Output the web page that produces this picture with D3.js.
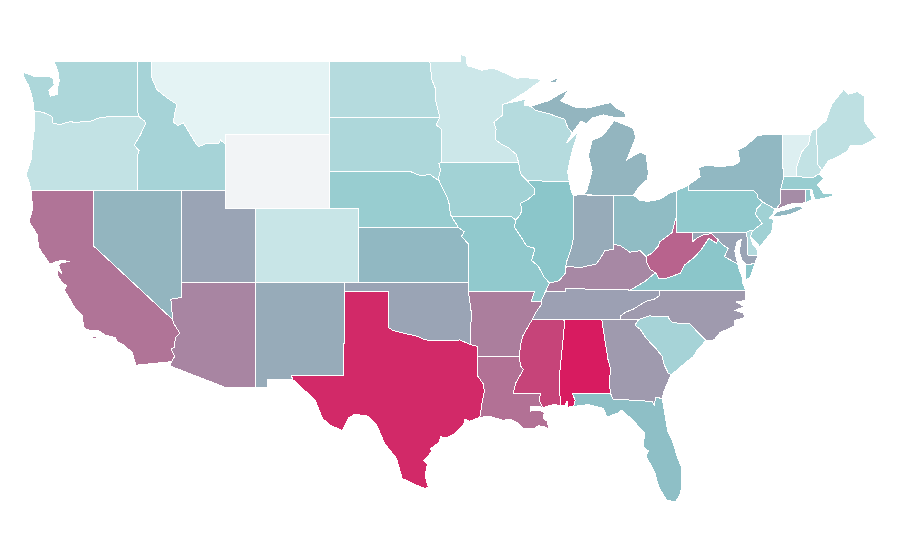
<!DOCTYPE html>
<html>
<head>
<meta charset="utf-8">
<script src="https://cdn.jsdelivr.net/npm/d3@7"></script>
<style>
  html, body { margin: 0; padding: 0; background: #fff; }
  svg { display: block; }
  .state { stroke: #fff; stroke-width: 1; shape-rendering: crispEdges; }
</style>
</head>
<body>
<svg id="map" width="900" height="560"></svg>
<script>
// state codes and the value each one is shaded by (read off the colours), null = no data
const stateCodes = ["AL","AR","AZ","CA","CO","CT","DE","FL","GA","IA","ID","IL","IN","KS","KY","LA","MA","MD","ME","MI","MN","MO","MS","MT","NC","ND","NE","NH","NJ","NM","NV","NY","OH","OK","OR","PA","RI","SC","SD","TN","TX","UT","VA","VT","WA","WI","WV","WY"];
const stateValues = [100,71,69,74,18,67,29,52,63,38,36,50,58,54,68,75,43,60,23,55,16,47,88,3,63,28,43,21,39,58,55,54,53,60,21,47,47,36,32,61,96,60,50,7,32,28,79,null];

// colour ramp
const rampStops = [0, 50, 100];
const rampColors = ["#eaf6f7", "#8bc6ca", "#d81b60"];
const noDataColor = "#f2f4f6";

// shared borders, [lon, lat]
const columbia = [[-116.92,45.99],[-118.98,46],[-119.3,45.93],[-119.6,45.92],[-120.2,45.73],[-120.65,45.74],[-121.2,45.65],[-121.5,45.72],[-122,45.62],[-122.3,45.55],[-122.75,45.65],[-122.8,46],[-123.2,46.15],[-123.43,46.23],[-124,46.27]];
const snake = [[-116.92,45.99],[-116.53,45.75],[-116.46,45.6],[-116.85,44.95],[-117.22,44.45],[-117.03,44.25],[-116.9,44.15],[-117.03,43.83],[-117.03,42]];
const idMt = [[-116.05,49],[-116.05,48.1],[-115.7,47.45],[-115,47],[-114.35,46.65],[-114.5,46.15],[-114.57,45.7],[-114.3,45.5],[-113.9,45.65],[-113.45,45.05],[-113,44.45],[-112.85,44.37],[-112.3,44.55],[-111.5,44.55],[-111.4,44.73],[-111.05,44.47]];
const colorado = [[-114.63,35],[-114.57,34.8],[-114.15,34.27],[-114.45,34],[-114.52,33.5],[-114.72,33.4],[-114.5,33],[-114.72,32.72]];
const redNorth = [[-97.23,49],[-97.1,48],[-96.85,47.5],[-96.85,46.9],[-96.56,45.94]];
const mnSd = [[-96.56,45.94],[-96.8,45.55],[-96.45,45.3],[-96.45,43.5]];
const sdIa = [[-96.45,43.5],[-96.62,43.45],[-96.5,43.1],[-96.65,42.65],[-96.6,42.5]];
const neNorth = [[-98.5,43],[-97.9,42.8],[-97.2,42.85],[-96.6,42.5]];
const moRiver = [[-96.6,42.5],[-96.1,41.7],[-95.9,41.2],[-95.85,40.7],[-95.31,40]];
const kcBend = [[-95.31,40],[-94.9,39.75],[-95.1,39.5],[-94.62,39.1]];
const redRiver = [[-100,34.56],[-99.7,34.4],[-99.2,34.3],[-98.1,34.1],[-97.7,33.95],[-97.2,33.85],[-96.6,33.85],[-96,33.85],[-95.2,33.9],[-94.48,33.64]];
const sabine = [[-94.04,32],[-93.6,31.5],[-93.55,31.1],[-93.72,30.38],[-93.85,29.7]];
const mnWi = [[-92.01,46.71],[-92.29,46.66],[-92.29,46.08],[-92.9,45.7],[-92.75,45.3],[-92.8,44.75],[-92.3,44.45],[-91.9,44.3],[-91.4,43.95],[-91.22,43.5]];
const iaWi = [[-91.22,43.5],[-91.1,42.9],[-90.64,42.51]];
const iaIl = [[-90.64,42.51],[-90.16,42.1],[-90.15,41.8],[-90.6,41.5],[-91.1,41.3],[-91,40.95],[-91.1,40.7],[-91.42,40.38]];
const moIl = [[-91.42,40.38],[-91.5,40],[-91,39.4],[-90.7,39],[-90.12,38.85],[-90.2,38.6],[-90.35,38.2],[-89.9,37.9],[-89.5,37.3],[-89.13,36.98]];
const arMiss = [[-89.7,36],[-89.7,35.8],[-90.05,35.4],[-90.3,35],[-90.6,34.6],[-90.95,34.1],[-91.1,33.6],[-91.17,33]];
const laMs = [[-91.17,33],[-91.1,32.5],[-90.9,32.3],[-91.4,31.6],[-91.6,31],[-89.73,31],[-89.85,30.65],[-89.55,30.2]];
const kyIl = [[-89.13,36.98],[-88.5,37.1],[-88.07,37.5],[-88.07,37.8]];
const kyIn = [[-88.07,37.8],[-87.9,37.9],[-87.1,37.8],[-86.6,37.9],[-86,38],[-85.7,38.3],[-85.4,38.73],[-84.8,38.8],[-84.8,39.1]];
const kyOh = [[-84.8,39.1],[-84.3,38.98],[-83.7,38.65],[-83,38.73],[-82.6,38.42]];
const kyWv = [[-82.6,38.42],[-82.6,38.17],[-82.3,37.7],[-81.97,37.54]];
const ohWv = [[-82.6,38.42],[-82.2,38.6],[-81.75,39],[-81.7,39.2],[-80.85,39.7],[-80.62,40.4],[-80.52,40.64]];
const vaKy = [[-81.97,37.54],[-82.7,37.05],[-83.68,36.6]];
const vaWv = [[-81.97,37.54],[-81.7,37.2],[-81.2,37.25],[-80.3,37.5],[-80,37.95],[-79.3,38.4],[-78.85,38.8],[-78.35,39.4],[-77.83,39.13],[-77.72,39.32]];
const mdWv = [[-79.48,39.72],[-79.48,39.2],[-79.1,39.45],[-78.75,39.58],[-78.4,39.62],[-78.2,39.68],[-77.72,39.32]];
const potomac = [[-77.72,39.32],[-77.5,39.1],[-77.05,38.85],[-77.3,38.4],[-76.95,38.25],[-76.4,38]];
const ncWest = [[-81.68,36.59],[-81.7,36.3],[-82.05,36.1],[-82.6,36],[-83.1,35.75],[-83.5,35.55],[-84,35.4],[-84.32,35.2],[-84.32,35]];
const scNc = [[-83.1,35],[-82.4,35.2],[-81.05,35.15],[-81.05,35.05],[-80.8,34.82],[-79.68,34.8],[-78.55,33.86]];
const savannah = [[-83.35,34.7],[-83,34.47],[-82.55,33.95],[-81.9,33.4],[-81.5,33],[-81.4,32.6],[-81.1,32.1],[-80.88,32.03]];
const alGa = [[-85.6,35],[-85.18,32.85],[-85,32.3],[-85.1,31.6],[-85,31]];
const delaware = [[-75.35,42],[-75.05,41.75],[-75.05,41.6],[-74.7,41.36]];
const wiMi = [[-90.4,46.55],[-90.1,46.33],[-89.1,46.13],[-88.7,46],[-88.1,45.85],[-87.9,45.4],[-87.6,45.1]];
const vtNh = [[-71.5,45],[-71.6,44.5],[-72.05,44.1],[-72.4,43.3],[-72.46,42.73]];
const rev = a => a.slice().reverse();

// state outlines, each a list of rings
const outlines = {
  AL: [[...alGa,[-87.6,31],[-87.4,30.65],[-87.5,30.3],[-87.95,30.25],[-87.95,30.6],[-88.1,30.35],[-88.4,30.35],[-88.47,31.9],[-88.1,34.9],[-88.2,35]]],
  AR: [[[-94.62,36.5],[-90.15,36.5],[-90.37,36],...arMiss,[-94.04,33],[-94.04,33.55],[-94.48,33.64],[-94.43,35.4]]],
  AZ: [[[-114.04,37],[-109.05,37],[-109.05,31.33],[-111.07,31.33],[-114.81,32.49],...rev(colorado),[-114.75,36.1],[-114.04,36.2]]],
  CA: [[[-124.21,42],[-120,42],[-120,39],...colorado,[-117.12,32.53],[-117.25,32.85],[-117.35,33.2],[-117.9,33.6],[-118.4,33.8],[-118.5,34.03],[-119.2,34.15],[-119.6,34.38],[-120.47,34.45],[-120.65,34.58],[-120.75,35.2],[-121.3,35.7],[-121.95,36.6],[-121.8,36.85],[-122.05,36.95],[-122.45,37.4],[-122.45,37.78],[-122.1,37.45],[-122.35,37.95],[-122.2,38.08],[-121.6,38.15],[-122.1,38.2],[-122.45,38.15],[-122.95,38],[-123.7,38.9],[-123.8,39.6],[-124.35,40.3],[-124.1,41],[-124.21,42]],
       [[-120.2,33.98],[-119.95,34.08],[-119.6,34.02],[-119.9,33.95]]],
  CO: [[[-109.05,41],[-102.05,41],[-102.05,37],[-109.05,37]]],
  CT: [[[-73.5,42.05],[-71.8,42.02],[-71.85,41.32],[-72.9,41.25],[-73.65,41],[-73.7,41.1],[-73.5,41.3]]],
  DE: [[[-75.79,39.72],[-75.6,39.83],[-75.4,39.8],[-75.55,39.5],[-75.4,39.1],[-75.1,38.8],[-75.05,38.45],[-75.7,38.46]]],
  FL: [[[-87.6,31],[-85,31],[-84.86,30.7],[-82.2,30.57],[-82.05,30.36],[-81.95,30.8],[-81.5,30.72],[-81.35,30],[-81.15,29],[-80.8,28.4],[-80.5,27.6],[-80.2,27],[-80.2,26.3],[-80.25,25.6],[-80.6,25.15],[-81.2,25.2],[-81.75,25.95],[-82,26.7],[-82.6,27.6],[-82.45,27.9],[-82.8,28.1],[-82.7,28.85],[-83.5,29.56],[-84.25,30.1],[-84.5,29.95],[-85.25,29.72],[-85.5,30.2],[-86.5,30.4],[-87.5,30.3],[-87.4,30.65]]],
  GA: [[[-85.6,35],[-83.1,35],...savannah,[-81.2,31.5],[-81.4,31.1],[-81.5,30.72],[-81.95,30.8],[-82.05,30.36],[-82.2,30.57],[-84.86,30.7],...rev(alGa)]],
  IA: [[[-96.45,43.5],[-91.22,43.5],[-91.1,42.9],...iaIl,[-91.72,40.6],[-95.77,40.58],[-95.85,40.7],[-95.9,41.2],[-96.1,41.7],...rev(sdIa)]],
  ID: [[[-117.03,49],...idMt,[-111.05,42],[-117.03,42],...rev(snake),[-117.04,46.42]]],
  IL: [[[-90.64,42.51],[-87.8,42.49],[-87.65,41.9],[-87.53,41.71],[-87.53,39.35],[-87.65,38.9],[-87.95,38.2],...rev(kyIl),...rev(moIl),...rev(iaIl)]],
  IN: [[[-87.53,41.71],[-87.2,41.76],[-84.8,41.7],...rev(kyIn),[-87.95,38.2],[-87.65,38.9],[-87.53,39.35]]],
  KS: [[[-102.05,40],...kcBend,[-94.62,37],[-102.05,37]]],
  KY: [[...kyIl,...kyIn,...kyOh,...kyWv,...vaKy,[-88.07,36.68],[-88.07,36.5],[-89.42,36.5]]],
  LA: [[[-94.04,33],...laMs,[-89.8,30.32],[-90.45,30.3],[-90.4,30.05],[-89.75,30.08],[-89.5,29.95],[-89.55,29.65],[-89.3,29.5],[-89.15,29.05],[-89.5,29.2],[-89.9,29.25],[-90.2,29.1],[-90.9,29.1],[-91.3,29.4],[-91.8,29.6],[-92.3,29.55],[-93.2,29.77],...rev(sabine)]],
  MA: [[[-73.5,42.05],[-73.27,42.75],[-71.3,42.7],[-70.9,42.88],[-70.6,42.65],[-71,42.3],[-70.55,41.8],[-70,41.8],[-70.1,42.05],[-69.95,41.7],[-70.6,41.55],[-71.2,41.5],[-71.38,42.02],[-71.8,42.02]]],
  MD: [[...mdWv.slice(0,1),[-75.79,39.72],[-75.7,38.46],[-75.05,38.45],[-75.25,38.03],[-75.85,37.98],[-76.1,38.2],[-76.3,38.7],[-76.15,39.35],[-76.45,39.2],[-76.6,38.7],...rev(potomac),...rev(mdWv)]],
  ME: [[[-71.08,45.3],[-70.4,45.8],[-70.25,46.2],[-70,46.7],[-69.23,47.46],[-68.9,47.2],[-68.3,47.35],[-67.8,47.07],[-67.8,45.7],[-67.45,45.3],[-67.3,45.15],[-67,44.85],[-68,44.4],[-68.8,44.4],[-69,44.1],[-69.8,43.75],[-70.25,43.6],[-70.7,43.07],[-70.98,43.4]]],
  MI: [[[-86.8,41.76],[-84.8,41.7],[-83.45,41.73],[-83.15,42.1],[-82.5,42.6],[-82.45,43],[-82.6,43.9],[-83,44.07],[-83.4,43.9],[-83.9,43.65],[-83.3,44.85],[-83.45,45.35],[-84.75,45.78],[-85.1,45.4],[-85.55,44.95],[-86.25,44.7],[-86.5,43.9],[-86.25,43.05],[-86.6,42]],
       [...wiMi,[-87,45.75],[-86.6,45.6],[-86.3,45.9],[-85.5,46.08],[-84.75,45.95],[-83.9,45.97],[-84.1,46.25],[-84.6,46.45],[-85,46.75],[-86.6,46.45],[-87.4,46.5],[-88.4,46.85],[-88.2,47],[-87.85,47.45],[-88.45,47.2],[-89.2,46.85]],
       [[-89.2,47.85],[-88.5,48.15],[-88.7,47.85]]],
  MN: [[...redNorth.slice(0,1),[-95.15,49],[-95.15,49.33],[-94.8,49.3],[-94.7,48.75],[-93.7,48.5],[-92.95,48.62],[-92,48.3],[-91.4,48.07],[-90.75,48.1],[-89.6,48],[-90.8,47.3],...mnWi,...rev(mnSd),...rev(redNorth)]],
  MO: [[[-95.77,40.58],[-91.72,40.6],...moIl,[-89.42,36.5],[-89.7,36],[-90.37,36],[-90.15,36.5],[-94.62,36.5],...rev(kcBend),[-95.85,40.7]]],
  MS: [[[-90.3,35],[-88.2,35],[-88.1,34.9],[-88.47,31.9],[-88.4,30.35],[-88.85,30.4],[-89.35,30.3],...rev(laMs),[-91.1,33.6],[-90.95,34.1],[-90.6,34.6]]],
  MT: [[[-116.05,49],[-104.05,49],[-104.05,45],[-111.05,45],...rev(idMt)]],
  NC: [[...rev(ncWest),[-75.87,36.55],[-75.85,36.05],[-76.5,35.95],[-75.95,35.7],[-76.6,35.5],[-76,35.35],[-75.95,35.1],[-76.6,34.95],[-76.6,34.65],[-77.6,34.3],[-78,33.9],...rev(scNc)]],
  ND: [[[-104.05,49],...redNorth,[-104.05,45.94]]],
  NE: [[[-104.05,43],...neNorth,...moRiver,[-102.05,40],[-102.05,41],[-104.05,41]]],
  NH: [[...vtNh.slice(0,1),[-71.3,45.3],[-71.08,45.3],[-70.98,43.4],[-70.7,43.07],[-70.9,42.88],[-71.3,42.7],...rev(vtNh)]],
  NJ: [[[-74.7,41.36],[-73.9,41],[-74.05,40.65],[-74.25,40.5],[-73.98,40.4],[-74.1,39.75],[-74.9,38.95],[-75.55,39.5],[-75.4,39.8],[-74.75,40.2],[-75.2,40.7],[-75.1,41]]],
  NM: [[[-109.05,37],[-103,37],[-103,36.5],[-103.06,32],[-106.62,32],[-106.53,31.78],[-108.2,31.78],[-108.2,31.33],[-109.05,31.33]]],
  NV: [[[-120,42],[-114.04,42],[-114.04,36.2],[-114.75,36.1],[-114.63,35],[-120,39]]],
  NY: [[[-79.76,42.27],[-78.95,42.74],[-79.05,43.22],[-78.5,43.37],[-77.7,43.28],[-76.7,43.35],[-76.25,43.55],[-76.4,44.18],[-75.85,44.4],[-75.1,44.94],[-74.7,45],[-73.35,45],[-73.35,44.5],[-73.4,43.6],[-73.27,42.75],[-73.5,42.05],[-73.5,41.3],[-73.7,41.1],[-73.65,41],[-73.9,41],...rev(delaware),[-79.76,42]],
       [[-74.03,40.6],[-73.75,40.85],[-73.1,40.95],[-72.3,41.15],[-71.9,41.05],[-72.8,40.7],[-73.9,40.55]]],
  OH: [[[-84.8,41.7],[-83.45,41.73],[-83,41.45],[-82.5,41.4],[-81.7,41.5],[-81,41.85],[-80.52,41.98],...rev(ohWv),...rev(kyOh)]],
  OK: [[[-103,37],[-94.62,37],[-94.62,36.5],[-94.43,35.4],...rev(redRiver),[-100,36.5],[-103,36.5]]],
  OR: [[...rev(columbia),...snake,[-120,42],[-124.21,42],[-124.4,42.6],[-124.55,42.84],[-124.2,43.7],[-124.1,44.6],[-123.95,45.5],[-123.95,46]]],
  PA: [[[-80.52,41.98],[-79.76,42.27],[-79.76,42],...delaware,[-75.1,41],[-75.2,40.7],[-74.75,40.2],[-75.4,39.8],[-75.6,39.83],[-75.79,39.72],[-80.52,39.72]]],
  RI: [[[-71.8,42.02],[-71.5,42.02],[-71.4,41.5],[-71.85,41.32]]],
  SC: [[...rev(savannah),...scNc,[-79.1,33.4],[-79.4,33],[-79.9,32.7],[-80.45,32.3]]],
  SD: [[[-104.05,45.94],...mnSd,...sdIa,...rev(neNorth),[-104.05,43]]],
  TN: [[[-90.3,35],[-88.2,35],[-85.6,35],...rev(ncWest),[-83.68,36.6],[-88.07,36.68],[-88.07,36.5],[-89.42,36.5],...arMiss.slice(0,4)]],
  TX: [[[-103,36.5],[-100,36.5],...redRiver,[-94.04,33.55],[-94.04,33],...sabine,[-94.55,29.5],[-94.85,29.6],[-94.95,29.3],[-95.5,28.85],[-96.1,28.6],[-96.5,28.66],[-96.6,28.35],[-97.2,28],[-97.1,27.85],[-97.65,27.36],[-97.4,27.2],[-97.55,26.5],[-97.33,25.95],[-97.5,25.85],[-98.2,26.05],[-99.1,26.4],[-99.5,27.5],[-100.3,28.3],[-100.8,29.25],[-101.4,29.77],[-102.3,29.88],[-102.7,29.7],[-103.15,28.98],[-104,29.3],[-104.5,29.65],[-105,30.65],[-106.5,31.75],[-106.62,32],[-103.06,32]]],
  UT: [[[-114.04,42],[-111.05,42],[-111.05,41],[-109.05,41],[-109.05,37],[-114.04,37]]],
  VA: [[[-75.87,36.55],[-81.68,36.59],[-83.68,36.6],...rev(vaKy),...vaWv,...potomac,[-76.25,37.6],[-76.1,37.3],[-76.1,37],[-76,36.92]],
       [[-75.85,37.15],[-75.9,37.95],[-75.25,38.03],[-75.55,37.3]]],
  VT: [[[-73.35,45],...vtNh,[-73.27,42.75],[-73.4,43.6],[-73.35,44.5]]],
  WA: [[[-122.66,49],[-117.03,49],[-117.04,46.42],...columbia,[-124.07,46.7],[-124.1,46.9],[-124.2,47.2],[-124.4,47.7],[-124.73,48.2],[-124.7,48.38],[-124,48.17],[-123.1,48.18],[-122.75,48.1],[-122.65,47.7],[-123,47.4],[-122.9,47.1],[-122.4,47.2],[-122.4,47.6],[-122.3,47.95],[-122.4,48.45]]],
  WI: [[[-92.01,46.71],[-91.2,46.85],[-90.75,46.95],[-90.85,46.6],...wiMi,[-88,44.55],[-87.2,45.15],[-87.5,44.4],[-87.75,43.6],[-87.9,43],[-87.8,42.49],[-90.64,42.51],...rev(iaWi),...rev(mnWi)]],
  WV: [[[-80.52,40.64],[-80.52,39.72],...mdWv,...rev(vaWv),...rev(kyWv),...ohWv]],
  WY: [[[-111.05,45],[-104.05,45],[-104.05,41],[-111.05,41]]]
};

var x = d3.scaleLinear().domain([-124.73, -66.95]).range([23.4, 877.4]);
var y = d3.scaleLinear().domain([49, 25]).range([61, 504.3]);
var color = d3.scaleLinear().domain(rampStops).range(rampColors);

// plain lon/lat grid, states are stretched onto it through the two scales
var grid = d3.geoTransform({
  point: function(lon, lat) { this.stream.point(x(lon), y(lat)); }
});
var path = d3.geoPath(grid);

var features = stateCodes.map((code, i) => ({
  type: "Feature",
  properties: { code: code, value: stateValues[i] },
  geometry: {
    type: "MultiPolygon",
    coordinates: outlines[code].map(ring => [[...ring, ring[0]]])
  }
}));

d3.select("#map").selectAll("path")
  .data(features)
  .enter()
  .append("path")
  .attr("class", "state")
  .attr("d", path)
  .attr("fill", d => d.properties.value === null ? noDataColor : color(d.properties.value));
</script>
</body>
</html>
